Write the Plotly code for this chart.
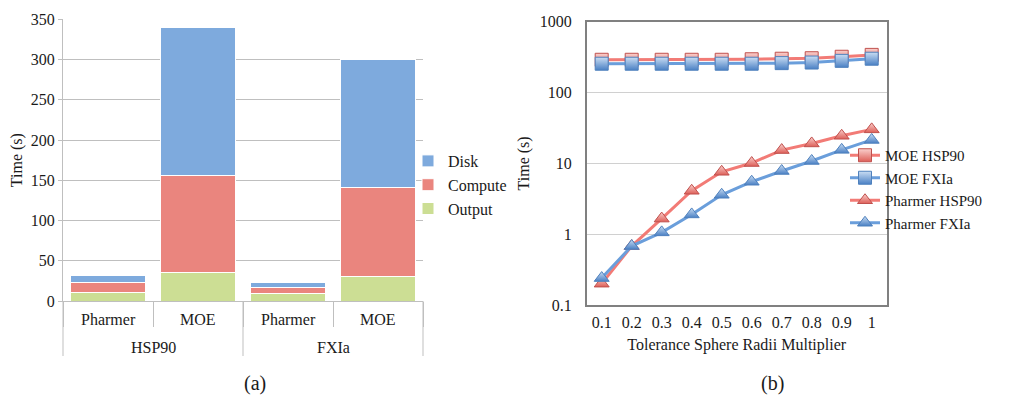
import plotly.graph_objects as go

# ---- data: panel (a) ----
groups = ["HSP90", "HSP90", "FXIa", "FXIa"]
programs = ["Pharmer", "MOE", "Pharmer", "MOE"]
output_t = [11, 36, 9, 30]
compute_t = [12, 120, 8, 111]
disk_t = [9, 184, 6, 159]

# ---- data: panel (b) ----
radii = ["0.1", "0.2", "0.3", "0.4", "0.5", "0.6", "0.7", "0.8", "0.9", "1"]
moe_hsp90 = [290, 290, 290, 290, 290, 295, 300, 305, 320, 340]
moe_fxia = [255, 255, 255, 255, 255, 255, 260, 265, 280, 300]
pharmer_hsp90 = [0.2, 0.68, 1.66, 4.1, 7.6, 10.1, 15.4, 19.1, 24.5, 30.2]
pharmer_fxia = [0.24, 0.68, 1.06, 1.9, 3.6, 5.5, 7.8, 10.8, 15.5, 21.4]

FONT = "Liberation Serif"
TXT = "#1a1a1a"
def f(size):
    return dict(family=FONT, size=size, color=TXT)

# page body has an 8px default margin; figure is sized to fit the window
OFF = 8
W, H = 1026 - OFF, 397 - OFF
def px(x): return (x - OFF) / W
def py(y): return 1 - (y - OFF) / H

fig = go.Figure()

xcat = [groups, programs]
bar_line = dict(color="white", width=1)
fig.add_trace(go.Bar(x=xcat, y=output_t, name="Output", marker=dict(color="#CCDE94", line=bar_line),
                     xaxis="x", yaxis="y", legend="legend"))
fig.add_trace(go.Bar(x=xcat, y=compute_t, name="Compute", marker=dict(color="#EA857E", line=bar_line),
                     xaxis="x", yaxis="y", legend="legend"))
fig.add_trace(go.Bar(x=xcat, y=disk_t, name="Disk", marker=dict(color="#7EAADD", line=bar_line),
                     xaxis="x", yaxis="y", legend="legend"))

RED = "#F27B76"
BLUE = "#6A9EDB"

def line_trace(y, name, color, symbol, mcol, glow, border):
    return go.Scatter(x=radii, y=y, name=name, mode="lines+markers",
                      line=dict(color=color, width=3),
                      marker=dict(symbol=symbol, size=13, color=mcol,
                                  gradient=dict(type="vertical", color=glow),
                                  line=dict(color=border, width=1)),
                      xaxis="x2", yaxis="y2", legend="legend2")

fig.add_trace(line_trace(moe_hsp90, "MOE HSP90", RED, "square", "#FAD0CD", "#DD5F58", "#C0504D"))
fig.add_trace(line_trace(moe_fxia, "MOE FXIa", BLUE, "square", "#C9DDF3", "#4A80C4", "#4F81BD"))
fig.add_trace(line_trace(pharmer_hsp90, "Pharmer HSP90", RED, "triangle-up", "#FAD0CD", "#DD5F58", "#C0504D"))
fig.add_trace(line_trace(pharmer_fxia, "Pharmer FXIa", BLUE, "triangle-up", "#C9DDF3", "#4A80C4", "#4F81BD"))

GRID_A = "#BFBFBF"
ax_bottom = 301
annotations = []
shapes = []
n = len(programs)
# sub-category labels (level 1)
for i, p in enumerate(programs):
    annotations.append(dict(text=p, x=(i + 0.5) / n, xref="x domain", y=py(319), yref="paper",
                            showarrow=False, font=f(16), xanchor="center", yanchor="middle"))
# group labels (level 2) and group dividers
bounds = [0]
for i in range(1, n):
    if groups[i] != groups[i - 1]:
        bounds.append(i)
bounds.append(n)
for k in range(len(bounds) - 1):
    a, b = bounds[k], bounds[k + 1]
    annotations.append(dict(text=groups[a], x=(a + b) / 2 / n, xref="x domain", y=py(347), yref="paper",
                            showarrow=False, font=f(16), xanchor="center", yanchor="middle"))
for bnd in bounds:
    shapes.append(dict(type="line", xref="x domain", yref="paper", x0=bnd / n, x1=bnd / n,
                       y0=py(ax_bottom), y1=py(356), line=dict(color=GRID_A, width=1)))

annotations += [
    dict(text="(a)", x=px(255), y=py(383), xref="paper", yref="paper",
         showarrow=False, font=f(20), xanchor="center", yanchor="middle"),
    dict(text="(b)", x=px(772), y=py(383), xref="paper", yref="paper",
         showarrow=False, font=f(20), xanchor="center", yanchor="middle"),
]

fig.update_layout(
    width=W, height=H,
    margin=dict(l=0, r=0, t=0, b=0),
    paper_bgcolor="white", plot_bgcolor="white",
    font=f(15),
    barmode="stack", bargap=0.167,
    showlegend=True,
    xaxis=dict(domain=[px(63), px(423)], anchor="y", type="multicategory", automargin=False,
               showline=True, linecolor=GRID_A, linewidth=1,
               showdividers=False, showticklabels=False,
               ticks="outside", tickson="boundaries", ticklen=25, tickcolor=GRID_A,
               showgrid=False),
    yaxis=dict(domain=[py(ax_bottom), py(19.3)], anchor="x", range=[0, 350], dtick=50, automargin=False,
               showline=True, linecolor=GRID_A, gridcolor=GRID_A, gridwidth=1,
               ticks="outside", ticklen=4, tickcolor=GRID_A,
               tickfont=f(16), zeroline=False,
               title=dict(text="Time (s)", font=f(16), standoff=8)),
    xaxis2=dict(domain=[px(586.7), px(886.7)], anchor="y2", type="category", automargin=False,
                range=[-0.5, 9.5], showline=True, mirror=True, linecolor="#808080", linewidth=1.5,
                ticks="outside", ticklen=2, tickcolor="rgba(0,0,0,0)", tickfont=f(16), showgrid=False,
                title=dict(text="Tolerance Sphere Radii Multiplier", font=f(16), standoff=9)),
    yaxis2=dict(domain=[py(305), py(21.7)], anchor="x2", type="log", range=[-1, 3], automargin=False,
                tickvals=[0.1, 1, 10, 100, 1000], ticktext=["0.1", "1", "10", "100", "1000"],
                showline=True, mirror=True, linecolor="#808080", linewidth=1.5,
                gridcolor="#D0D0D0", gridwidth=1,
                ticks="outside", ticklen=10, tickcolor="rgba(0,0,0,0)", tickfont=f(16),
                zeroline=False,
                title=dict(text="Time (s)", font=f(16), standoff=6)),
    legend=dict(x=px(408), y=py(144), xanchor="left", yanchor="top",
                traceorder="reversed", font=f(16), itemwidth=30,
                tracegroupgap=0, bgcolor="rgba(0,0,0,0)"),
    legend2=dict(x=px(845), y=py(139), xanchor="left", yanchor="top",
                 font=f(15), itemwidth=30, tracegroupgap=0,
                 bgcolor="rgba(0,0,0,0)"),
    annotations=annotations,
    shapes=shapes,
)

fig.write_html("out.html")
